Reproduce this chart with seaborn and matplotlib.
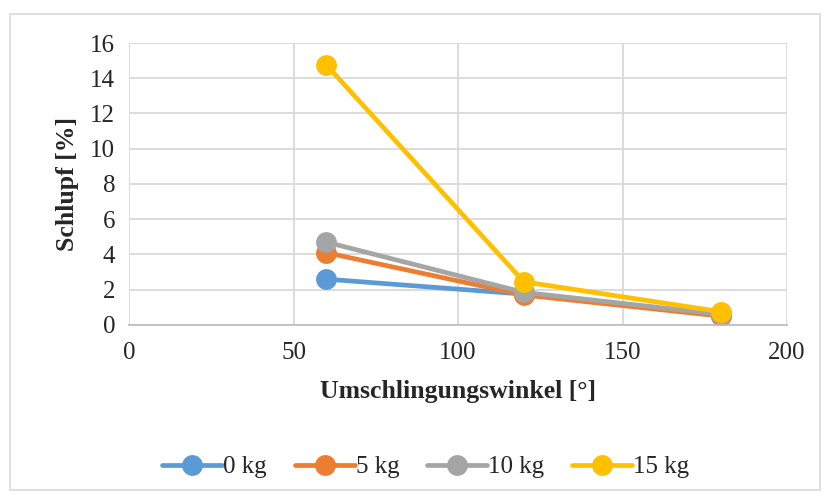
import pandas as pd
import matplotlib.pyplot as plt
import seaborn as sns
from matplotlib.patches import Rectangle

# Daten
winkel = [60, 120, 180]
schlupf_0kg = [2.6, 1.75, 0.55]
schlupf_5kg = [4.1, 1.7, 0.5]
schlupf_10kg = [4.7, 1.85, 0.6]
schlupf_15kg = [14.75, 2.45, 0.75]
gewichte = ["0 kg", "5 kg", "10 kg", "15 kg"]
farben = ["#5b9bd5", "#ed7d31", "#a5a5a5", "#ffc000"]

rows = []
for g, werte in zip(gewichte, [schlupf_0kg, schlupf_5kg, schlupf_10kg, schlupf_15kg]):
    for w, s in zip(winkel, werte):
        rows.append({"winkel": w, "schlupf": s, "gewicht": g})
df = pd.DataFrame(rows)

sns.set_style("white")
plt.rcParams['font.family'] = ['Liberation Serif', 'DejaVu Serif']

fig = plt.figure(figsize=(8.25, 4.96), dpi=100)
ax = fig.add_axes([0.1564, 0.3448, 0.7976, 0.5685])

# Rahmen um das ganze Diagramm
fig.patches.append(Rectangle((10 / 825, 6 / 496), 810 / 825, 476 / 496,
                             transform=fig.transFigure, fill=False,
                             edgecolor="#d9d9d9", linewidth=1.2))

sns.lineplot(data=df, x="winkel", y="schlupf", hue="gewicht", hue_order=gewichte,
             palette=farben, marker="o", markersize=15, markeredgewidth=0,
             linewidth=3.4, ax=ax, legend=True)

ax.set_xlim(0, 200)
ax.set_ylim(0, 16)
ax.set_xticks(range(0, 201, 50))
ax.set_yticks(range(0, 17, 2))
ax.grid(True, color="#d9d9d9", linewidth=1.3)
ax.set_axisbelow(True)
for s in ["top", "right", "left"]:
    ax.spines[s].set_visible(False)
ax.spines["bottom"].set_color("#bfbfbf")
ax.spines["bottom"].set_linewidth(1.3)
ax.tick_params(axis="x", length=5, color="#bfbfbf", width=1.3, labelsize=18, pad=7)
ax.tick_params(axis="y", length=0, labelsize=18, pad=10)
for lbl in ax.get_xticklabels() + ax.get_yticklabels():
    lbl.set_color("#262626")

ax.set_xlabel("Umschlingungswinkel [°]", fontsize=18.5, fontweight="bold", labelpad=12)
ax.set_ylabel("Schlupf [%]", fontsize=18.5, fontweight="bold", labelpad=8)

handles, labels = ax.get_legend_handles_labels()
ax.get_legend().remove()
fig.legend(handles, labels, loc="center", bbox_to_anchor=(0.516, 1 - 467 / 496),
           ncol=4, frameon=False, fontsize=18, handlelength=2.4,
           handletextpad=0.05, columnspacing=1.1)

fig.savefig("out.png", dpi=100)
